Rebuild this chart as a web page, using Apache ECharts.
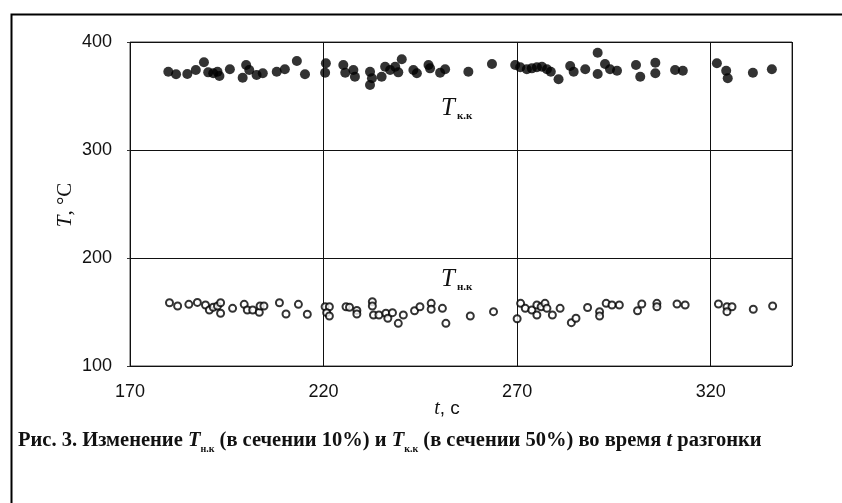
<!DOCTYPE html>
<html><head><meta charset="utf-8">
<script src="https://cdn.jsdelivr.net/npm/echarts@6/dist/echarts.min.js"></script>
<style>html,body{margin:0;padding:0;background:#fff}#c{width:842px;height:503px}</style>
</head><body><div id="c"></div>
<script>
// T_к.к (filled dots): [t, T]
const tkk = [
 [179.9,372.5],[181.9,370.1],[184.8,370.4],[187.0,374.1],[189.1,381.2],[190.2,371.9],[191.5,371.0],[193.1,368.5],[192.6,372.5],[195.8,374.7],
 [199.1,366.9],[200.0,378.7],[200.8,374.1],[202.7,369.4],[204.3,371.0],[207.9,372.5],[210.0,374.7],[213.1,382.4],[215.2,370.1],
 [220.6,380.3],[220.4,371.6],[225.1,378.7],[225.6,371.6],[227.7,374.1],[228.1,367.9],[232.0,372.5],[232.5,366.4],[232.0,360.2],[235.0,367.9],
 [235.9,377.1],[237.2,374.1],[238.5,377.1],[239.3,371.9],[240.2,384.0],[243.2,374.1],[244.1,371.0],[247.1,378.7],[247.5,375.6],[250.1,371.6],
 [251.4,374.7],[257.4,372.5],[263.5,379.6],
 [269.5,378.7],[270.8,376.6],[272.5,374.7],[273.8,375.6],[275.1,376.6],[276.4,377.1],[277.7,374.7],[278.7,372.5],[280.7,365.5],[283.7,377.8],
 [284.6,372.5],[287.6,374.7],[290.8,390.1],[290.8,370.4],[292.7,379.6],[294.0,374.7],[295.8,373.4],[300.7,378.7],[301.8,367.9],[305.7,380.8],
 [305.7,371.0],[310.8,374.1],[312.8,373.4],[321.6,380.3],[324.0,373.4],[324.4,366.4],[330.9,371.6],[335.8,374.7]
];
// T_н.к (open circles): [t, T]
const tnk = [
 [180.2,158.6],[182.3,155.6],[185.2,157.1],[187.4,158.9],[189.5,156.5],[190.5,151.9],[191.5,154.4],[192.6,155.6],[193.4,158.6],[193.4,148.8],
 [196.5,153.4],[199.5,157.1],[200.3,151.9],[201.7,151.9],[203.4,149.7],[203.6,155.6],[204.6,155.6],[208.6,158.6],[210.3,148.1],[213.5,157.1],
 [215.8,147.9],[220.4,154.9],[221.5,154.9],[220.8,149.4],[221.5,146.3],[225.8,154.9],[226.7,154.4],[228.6,151.5],[228.6,148.1],[232.6,159.5],
 [232.6,155.6],[232.9,147.2],[234.3,147.2],[236.1,148.8],[236.6,144.2],[237.8,149.4],[239.3,139.5],[240.6,147.2],[243.5,151.2],[244.9,154.9],
 [247.8,158.0],[247.8,152.5],[250.7,153.4],[251.6,139.5],[257.9,146.3],[263.9,150.3],[270.0,143.8],[270.9,158.0],[272.1,153.4],[273.8,151.9],
 [275.1,156.5],[275.1,147.2],[276.2,154.9],[277.2,158.0],[277.7,153.4],[279.1,147.2],[281.1,153.4],[284.0,140.1],[285.2,144.2],[288.2,154.2],
 [291.3,150.3],[291.3,146.3],[293.0,158.0],[294.5,156.5],[296.4,156.5],[301.1,151.2],[302.2,157.4],[306.1,158.0],[306.1,154.9],[311.3,157.4],
 [313.4,156.5],[322.0,157.4],[324.2,154.9],[325.5,154.9],[324.2,150.3],[331.0,152.5],[336.0,155.6]
];
const xTicks = [170, 220, 270, 320];
const yTicks = [100, 200, 300, 400];
const xMin = 170, xMax = 341, yMin = 100, yMax = 400;

const chart = echarts.init(document.getElementById('c'), null, {renderer: 'canvas'});
const serif = "'Liberation Serif', 'Times New Roman', serif";
const sans = "'Liberation Sans', Arial, sans-serif";
chart.setOption({
  animation: false,
  backgroundColor: '#fff',
  grid: {left: 130, right: 50, top: 42, bottom: 137, show: true, borderColor: '#444', borderWidth: 1},
  xAxis: {
    type: 'value', min: xMin, max: xMax, interval: 50,
    axisLine: {show: false}, axisTick: {show: false},
    splitLine: {show: true, lineStyle: {color: '#111', width: 1}},
    axisLabel: {fontFamily: sans, fontSize: 18, color: '#111', margin: 17,
      formatter: v => xTicks.includes(v) ? String(v) : ''}
  },
  yAxis: {
    type: 'value', min: yMin, max: yMax, interval: 100,
    axisLine: {show: false}, axisTick: {show: true, length: 3, lineStyle: {color: '#333'}},
    splitLine: {show: true, lineStyle: {color: '#111', width: 1}},
    axisLabel: {fontFamily: sans, fontSize: 18, color: '#111', margin: 18,
      formatter: v => yTicks.includes(v) ? String(v) : ''}
  },
  series: [
    {type: 'scatter', name: 'Tкк', data: tkk, symbol: 'circle', symbolSize: 10,
     itemStyle: {color: '#000'}},
    {type: 'scatter', name: 'Tнк', data: tnk, symbol: 'circle', symbolSize: 7,
     itemStyle: {color: '#fff', borderColor: '#000', borderWidth: 2}}
  ],
  graphic: [
    {type: 'rect', left: 9, top: 12, shape: {width: 860, height: 520},
     style: {fill: 'none', stroke: '#000', lineWidth: 2}, silent: true},
    {type: 'text', x: 65, y: 205, rotation: Math.PI / 2,
     style: {text: '{i|T}{n|, °C}', align: 'center', verticalAlign: 'middle',
       rich: {i: {fontFamily: serif, fontStyle: 'italic', fontSize: 21, fill: '#111'},
              n: {fontFamily: serif, fontSize: 21, fill: '#111'}}}},
    {type: 'text', x: 447, y: 409,
     style: {text: '{i|t}{n|, с}', align: 'center', verticalAlign: 'middle',
       rich: {i: {fontFamily: serif, fontStyle: 'italic', fontSize: 20, fill: '#111'},
              n: {fontFamily: sans, fontSize: 19, fill: '#111'}}}},
    {type: 'text', x: 441, y: 94,
     style: {text: '{i|T}{s|к.к}', align: 'left', verticalAlign: 'top',
       rich: {i: {fontFamily: serif, fontStyle: 'italic', fontSize: 25, lineHeight: 28, fill: '#111'},
              s: {fontFamily: serif, fontWeight: 'bold', fontSize: 11, lineHeight: 12, verticalAlign: 'bottom', fill: '#111', padding: [0,0,0,2]}}}},
    {type: 'text', x: 441, y: 265,
     style: {text: '{i|T}{s|н.к}', align: 'left', verticalAlign: 'top',
       rich: {i: {fontFamily: serif, fontStyle: 'italic', fontSize: 25, lineHeight: 28, fill: '#111'},
              s: {fontFamily: serif, fontWeight: 'bold', fontSize: 11, lineHeight: 12, verticalAlign: 'bottom', fill: '#111', padding: [0,0,0,2]}}}},
    {type: 'text', x: 18, y: 441,
     style: {text: '{b|Рис. 3. Изменение }{i|T}{s|н.к}{b| (в сечении 10%) и }{i|T}{s|к.к}{b| (в сечении 50%) во время }{i|t}{b| разгонки}',
       align: 'left', verticalAlign: 'middle',
       rich: {b: {fontFamily: serif, fontWeight: 'bold', fontSize: 20.5, lineHeight: 26, fill: '#111'},
              i: {fontFamily: serif, fontWeight: 'bold', fontStyle: 'italic', fontSize: 20.5, lineHeight: 26, fill: '#111'},
              s: {fontFamily: serif, fontWeight: 'bold', fontSize: 10, lineHeight: 13, verticalAlign: 'bottom', fill: '#111'}}}}
  ]
});
</script></body></html>
